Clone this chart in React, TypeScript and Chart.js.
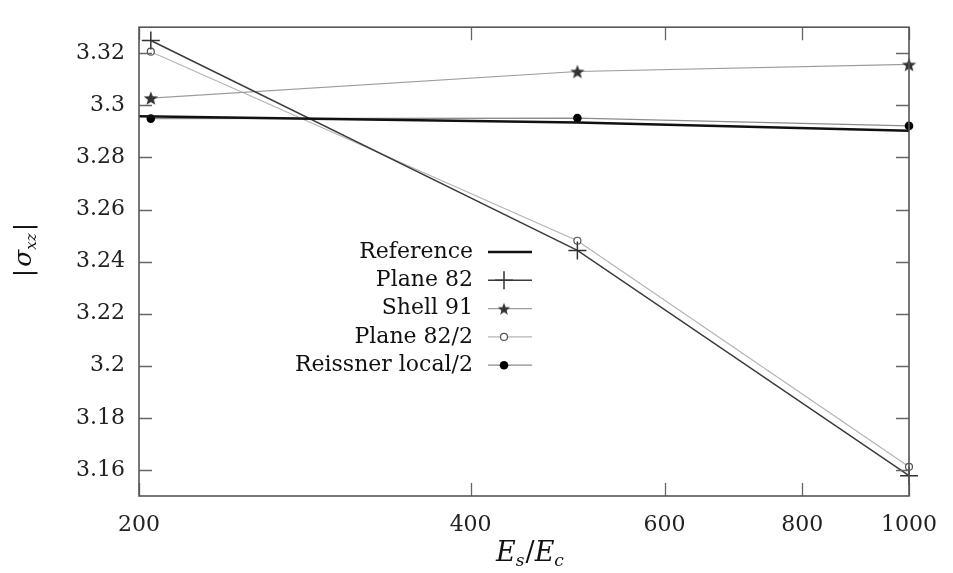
import React, { useEffect, useRef } from 'react';
import { Chart, registerables } from 'chart.js';

Chart.register(...registerables);

// ---- data ----
const xValues = [205, 500, 1000];
const referenceX = [200, 500, 1000];
const referenceY = [3.2958, 3.2934, 3.2902];
const plane82 = [3.3249, 3.2443, 3.1578];
const shell91 = [3.3028, 3.313, 3.3157];
const plane82half = [3.3206, 3.248, 3.1612];
const reissnerHalf = [3.2949, 3.2951, 3.2921];

const seriesNames = ['Reference', 'Plane 82', 'Shell 91', 'Plane 82/2', 'Reissner local/2'];

const xTickValues = [200, 400, 600, 800, 1000];
const xTickLabels = ['200', '400', '600', '800', '1000'];
const yTickValues = [3.16, 3.18, 3.2, 3.22, 3.24, 3.26, 3.28, 3.3, 3.32];
const yTickLabels = ['3.16', '3.18', '3.2', '3.22', '3.24', '3.26', '3.28', '3.3', '3.32'];

const FONT = '"DejaVu Serif", "Liberation Serif", serif';

function makeStar(size: number, color: string) {
  const c = document.createElement('canvas');
  c.width = size;
  c.height = size;
  const ctx = c.getContext('2d')!;
  const cx = size / 2, cy = size / 2 + 0.8;
  const R = size / 2 - 0.5, r = R * 0.42;
  ctx.beginPath();
  for (let i = 0; i < 10; i++) {
    const a = -Math.PI / 2 + (i * Math.PI) / 5;
    const rr = i % 2 === 0 ? R : r;
    const px = cx + rr * Math.cos(a), py = cy + rr * Math.sin(a);
    if (i === 0) ctx.moveTo(px, py); else ctx.lineTo(px, py);
  }
  ctx.closePath();
  ctx.fillStyle = color;
  ctx.fill();
  return c;
}

function drawParts(ctx: CanvasRenderingContext2D, parts: { t: string; f: string; dy: number; gap?: number }[], cx: number, baseY: number) {
  let w = 0;
  for (const p of parts) { ctx.font = p.f; w += ctx.measureText(p.t).width + (p.gap || 0); }
  let x = cx - w / 2;
  ctx.textAlign = 'left';
  ctx.textBaseline = 'alphabetic';
  for (const p of parts) {
    ctx.font = p.f;
    ctx.fillText(p.t, x, baseY + p.dy);
    x += ctx.measureText(p.t).width + (p.gap || 0);
  }
}

export default function App() {
  const ref = useRef<HTMLCanvasElement | null>(null);

  useEffect(() => {
    if (!ref.current) return;
    const star = makeStar(16, '#333');
    const starLegend = makeStar(14, '#333');

    const framePlugin = {
      id: 'frameAndTicks',
      afterDatasetsDraw(chart: any) {
        const { ctx, chartArea } = chart;
        const { left, right, top, bottom } = chartArea;
        const xs = chart.scales.x, ys = chart.scales.y;
        ctx.save();
        ctx.strokeStyle = '#666';
        ctx.lineWidth = 1.3;
        const TL = 13;
        ctx.beginPath();
        for (const v of yTickValues) {
          const y = Math.round(ys.getPixelForValue(v)) + 0.5;
          ctx.moveTo(left, y); ctx.lineTo(left + TL, y);
          ctx.moveTo(right, y); ctx.lineTo(right - TL, y);
        }
        for (const v of xTickValues) {
          const x = Math.round(xs.getPixelForValue(v)) + 0.5;
          ctx.moveTo(x, bottom); ctx.lineTo(x, bottom - TL);
          ctx.moveTo(x, top); ctx.lineTo(x, top + TL);
        }
        ctx.stroke();
        ctx.strokeStyle = '#555';
        ctx.lineWidth = 1.6;
        ctx.strokeRect(left, top, right - left, bottom - top);
        ctx.restore();
      },
      afterDraw(chart: any) {
        const { ctx } = chart;
        ctx.save();
        ctx.fillStyle = '#111';
        // legend
        const rowY0 = 252, rowStep = 28.3;
        const textRight = 473, lineL = 488, lineR = 532, mk = 504;
        chart.data.datasets.forEach((ds: any, i: number) => {
          const y = rowY0 + i * rowStep;
          ctx.font = `22px ${FONT}`;
          ctx.textAlign = 'right';
          ctx.textBaseline = 'middle';
          ctx.fillStyle = '#111';
          ctx.fillText(ds.label, textRight, y);
          ctx.strokeStyle = ds.borderColor;
          ctx.lineWidth = ds.borderWidth;
          ctx.beginPath();
          ctx.moveTo(lineL, y); ctx.lineTo(lineR, y);
          ctx.stroke();
          if (i === 1) {
            ctx.strokeStyle = '#333'; ctx.lineWidth = 1.5;
            ctx.beginPath();
            ctx.moveTo(mk - 9, y); ctx.lineTo(mk + 9, y);
            ctx.moveTo(mk, y - 9); ctx.lineTo(mk, y + 9);
            ctx.stroke();
          } else if (i === 2) {
            ctx.drawImage(starLegend, mk - 7, y - 7);
          } else if (i === 3) {
            ctx.strokeStyle = '#555'; ctx.lineWidth = 1.2; ctx.fillStyle = '#fff';
            ctx.beginPath(); ctx.arc(mk, y, 3.5, 0, Math.PI * 2); ctx.fill(); ctx.stroke();
          } else if (i === 4) {
            ctx.fillStyle = '#000';
            ctx.beginPath(); ctx.arc(mk, y, 4.3, 0, Math.PI * 2); ctx.fill();
          }
        });
        // x title
        ctx.fillStyle = '#111';
        drawParts(ctx, [
          { t: 'E', f: `italic 27px ${FONT}`, dy: 0 },
          { t: 's', f: `italic 17px ${FONT}`, dy: 5, gap: 1 },
          { t: '/', f: `27px ${FONT}`, dy: 0 },
          { t: 'E', f: `italic 27px ${FONT}`, dy: 0 },
          { t: 'c', f: `italic 17px ${FONT}`, dy: 5 },
        ], 530, 561);
        // y title
        ctx.translate(31, 250);
        ctx.rotate(-Math.PI / 2);
        drawParts(ctx, [
          { t: '|', f: `25px ${FONT}`, dy: 0, gap: 2 },
          { t: 'σ', f: `italic 25px ${FONT}`, dy: 0 },
          { t: 'xz', f: `italic 15px ${FONT}`, dy: 5, gap: 2 },
          { t: '|', f: `25px ${FONT}`, dy: 0 },
        ], 0, 0);
        ctx.restore();
      },
    };

    const pts = (xs: number[], ys: number[]) => xs.map((x, i) => ({ x, y: ys[i] }));

    const chart = new Chart(ref.current, {
      type: 'line',
      data: {
        datasets: [
          {
            label: seriesNames[0], data: pts(referenceX, referenceY),
            borderColor: '#111', borderWidth: 2.5, pointRadius: 0, clip: false,
          },
          {
            label: seriesNames[1], data: pts(xValues, plane82),
            borderColor: '#3c3c3c', borderWidth: 1.5, pointStyle: 'cross', pointRadius: 9,
            pointBorderColor: '#333', pointBorderWidth: 1.5, clip: false,
          },
          {
            label: seriesNames[2], data: pts(xValues, shell91),
            borderColor: '#9c9c9c', borderWidth: 1.2, pointStyle: star as any, pointRadius: 8, clip: false,
          },
          {
            label: seriesNames[3], data: pts(xValues, plane82half),
            borderColor: '#b4b4b4', borderWidth: 1.2, pointStyle: 'circle', pointRadius: 3.5,
            pointBorderColor: '#555', pointBackgroundColor: '#fff', pointBorderWidth: 1.2, clip: false,
          },
          {
            label: seriesNames[4], data: pts(xValues, reissnerHalf),
            borderColor: '#8c8c8c', borderWidth: 1.2, pointStyle: 'circle', pointRadius: 4.3,
            pointBorderColor: '#000', pointBackgroundColor: '#000', pointBorderWidth: 0, clip: false,
          },
        ],
      },
      options: {
        animation: false,
        responsive: false,
        devicePixelRatio: 1,
        layout: { padding: { top: 6, right: 35, left: 0, bottom: 0 } },
        plugins: { legend: { display: false }, tooltip: { enabled: false } },
        elements: { line: { tension: 0 } },
        scales: {
          x: {
            type: 'logarithmic', min: 200, max: 1000,
            afterBuildTicks: (s: any) => { s.ticks = xTickValues.map((v) => ({ value: v })); },
            afterFit: (s: any) => { s.height = 77; },
            grid: { display: false, drawTicks: false },
            border: { display: false },
            ticks: {
              autoSkip: false, maxRotation: 0, padding: 16, color: '#222',
              font: { family: FONT, size: 22 },
              callback: (_v: any, i: number) => xTickLabels[i],
            },
          },
          y: {
            type: 'linear', min: 3.15, max: 3.33,
            afterBuildTicks: (s: any) => { s.ticks = yTickValues.map((v) => ({ value: v })); },
            afterFit: (s: any) => { s.width = 139; },
            grid: { display: false, drawTicks: false },
            border: { display: false },
            ticks: {
              autoSkip: false, padding: 14, color: '#222',
              font: { family: FONT, size: 22 },
              callback: (_v: any, i: number) => yTickLabels[i],
            },
          },
        },
      },
      plugins: [framePlugin],
    } as any);
    return () => chart.destroy();
  }, []);

  return (
    <div style={{ position: 'fixed', left: 0, top: 0, width: 953, height: 573, background: '#fff' }}>
      <canvas ref={ref} width={953} height={573} style={{ display: 'block' }} />
    </div>
  );
}
